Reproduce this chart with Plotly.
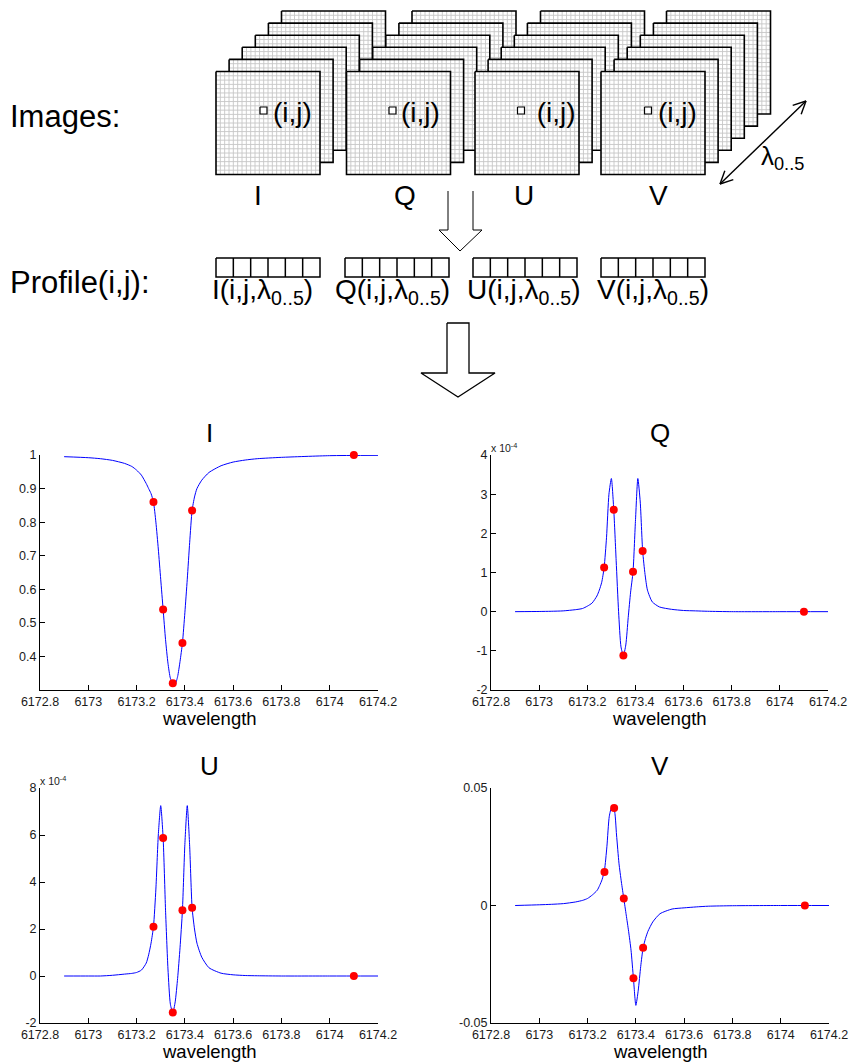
import math
import plotly.graph_objects as go

# ------------------------------------------------------------------ data
wavelength = [6172.90, 6173.00, 6173.05, 6173.10, 6173.15, 6173.18, 6173.20, 6173.22,
              6173.24, 6173.25, 6173.26, 6173.27, 6173.28, 6173.29, 6173.30, 6173.31,
              6173.32, 6173.33, 6173.34, 6173.35, 6173.36, 6173.37, 6173.38, 6173.39,
              6173.40, 6173.41, 6173.42, 6173.43, 6173.44, 6173.45, 6173.47, 6173.50,
              6173.55, 6173.60, 6173.65, 6173.70, 6173.80, 6174.00, 6174.20]

stokes_I = [0.995, 0.992, 0.989, 0.984, 0.975, 0.966, 0.955, 0.940,
            0.915, 0.900, 0.885, 0.860, 0.800, 0.720, 0.630, 0.540,
            0.450, 0.380, 0.335, 0.320, 0.318, 0.340, 0.385, 0.440,
            0.530, 0.630, 0.740, 0.835, 0.875, 0.900, 0.925, 0.948,
            0.968, 0.979, 0.985, 0.989, 0.993, 0.998, 0.999]

stokes_Q_e4 = [0.00, 0.005, 0.01, 0.02, 0.05, 0.08, 0.14, 0.22,
               0.40, 0.55, 0.75, 1.13, 1.90, 3.00, 3.40, 2.60,
               1.30, 0.00, -0.90, -1.12, -0.85, -0.15, 0.50, 1.02,
               2.30, 3.40, 2.80, 1.55, 0.95, 0.55, 0.25, 0.12,
               0.06, 0.03, 0.02, 0.01, 0.00, 0.00, 0.00]

stokes_U_e4 = [0.00, 0.00, 0.00, 0.03, 0.08, 0.11, 0.15, 0.25,
               0.55, 0.90, 1.40, 2.10, 3.70, 6.00, 7.25, 5.87,
               2.80, 0.30, -1.20, -1.57, -1.10, -0.10, 1.20, 2.80,
               5.60, 7.25, 5.50, 2.90, 2.00, 1.40, 0.80, 0.35,
               0.12, 0.05, 0.02, 0.01, 0.00, 0.00, 0.00]

stokes_V = [0.0000, 0.0003, 0.0005, 0.0008, 0.0015, 0.0022, 0.0030, 0.0045,
            0.0065, 0.0085, 0.0110, 0.0150, 0.0250, 0.0380, 0.0418, 0.0410,
            0.0300, 0.0180, 0.0100, 0.0030, -0.0040, -0.0110, -0.0190, -0.0310,
            -0.0425, -0.0360, -0.0260, -0.0180, -0.0140, -0.0110, -0.0070, -0.0035,
            -0.0015, -0.0010, -0.0006, -0.0003, -0.0001, 0.0000, 0.0000]

sample_wavelength = [6173.27, 6173.31, 6173.35, 6173.39, 6173.43, 6174.10]
sample_I = [0.86, 0.54, 0.32, 0.44, 0.835, 1.0]
sample_Q_e4 = [1.13, 2.60, -1.12, 1.02, 1.55, 0.0]
sample_U_e4 = [2.10, 5.87, -1.55, 2.80, 2.90, 0.0]
sample_V = [0.0143, 0.0415, 0.003, -0.031, -0.018, 0.0]

x_tickvals = [6172.8, 6173.0, 6173.2, 6173.4, 6173.6, 6173.8, 6174.0, 6174.2]
x_ticktext = ["6172.8", "6173", "6173.2", "6173.4", "6173.6", "6173.8", "6174", "6174.2"]
I_tickvals = [0.4, 0.5, 0.6, 0.7, 0.8, 0.9, 1.0]
I_ticktext = ["0.4", "0.5", "0.6", "0.7", "0.8", "0.9", "1"]
Q_tickvals = [-2, -1, 0, 1, 2, 3, 4]
Q_ticktext = ["-2", "-1", "0", "1", "2", "3", "4"]
U_tickvals = [-2, 0, 2, 4, 6, 8]
U_ticktext = ["-2", "0", "2", "4", "6", "8"]
V_tickvals = [-0.05, 0.0, 0.05]
V_ticktext = ["-0.05", "0", "0.05"]

panel_titles = ["I", "Q", "U", "V"]
stack_labels = ["I", "Q", "U", "V"]
profile_labels = ["I(i,j,λ<sub>0..5</sub>)", "Q(i,j,λ<sub>0..5</sub>)",
                  "U(i,j,λ<sub>0..5</sub>)", "V(i,j,λ<sub>0..5</sub>)"]
pixel_labels = ["(i,j)", "(i,j)", " (i,j)", "(i,j)"]

# ------------------------------------------------------------------ layout constants
W, H = 851, 1064
FONT = "Liberation Sans, Arial, Helvetica, sans-serif"
BLUE = "#0000ff"
RED = "#ff0000"

fig = go.Figure()


def px(p):
    return p / W


def py(p):
    return 1 - p / H


def seg(xs, ys, color="black", width=1.0, fill=None, fillcolor=None):
    fig.add_trace(go.Scatter(
        x=xs, y=ys, mode="lines", xaxis="x5", yaxis="y5",
        line=dict(color=color, width=width),
        fill=fill, fillcolor=fillcolor,
        hoverinfo="skip", showlegend=False))


# ------------------------------------------------------------------ chart panels
panels = [
    ("", stokes_I, sample_I, (40, 378), (455, 690), [0.3, 1.0], I_tickvals, I_ticktext, False),
    ("2", stokes_Q_e4, sample_Q_e4, (491, 828), (455, 690), [-2, 4], Q_tickvals, Q_ticktext, True),
    ("3", stokes_U_e4, sample_U_e4, (40, 378), (788, 1023), [-2, 8], U_tickvals, U_ticktext, True),
    ("4", stokes_V, sample_V, (491, 829), (788, 1023), [-0.05, 0.05], V_tickvals, V_ticktext, False),
]

annotations = []
axis_common = dict(showline=True, linecolor="black", linewidth=1, ticks="inside",
                   ticklen=5, tickwidth=1, tickcolor="black", showgrid=False,
                   zeroline=False, mirror=False, automargin=False,
                   tickfont=dict(family=FONT, size=12.5, color="#1a1a1a"))

layout_axes = {}
for (sfx, yvals, svals, xd, yd, yr, tv, tt, exp), title in zip(panels, panel_titles):
    xa = "x" + sfx
    ya = "y" + sfx
    fig.add_trace(go.Scatter(x=wavelength, y=yvals, mode="lines", xaxis=xa, yaxis=ya,
                             line=dict(color=BLUE, width=1, shape="spline", smoothing=0.6),
                             hoverinfo="skip", showlegend=False))
    fig.add_trace(go.Scatter(x=sample_wavelength, y=svals, mode="markers", xaxis=xa, yaxis=ya,
                             marker=dict(color=RED, size=8, line=dict(width=0)),
                             cliponaxis=False, hoverinfo="skip", showlegend=False))
    layout_axes["xaxis" + sfx] = dict(axis_common, domain=[px(xd[0]), px(xd[1])],
                                      range=[6172.8, 6174.2], anchor=ya,
                                      tickvals=x_tickvals, ticktext=x_ticktext)
    layout_axes["yaxis" + sfx] = dict(axis_common, domain=[py(yd[1]), py(yd[0])],
                                      range=yr, anchor=xa, tickvals=tv, ticktext=tt)
    cx = (xd[0] + xd[1]) / 2
    annotations.append(dict(xref="x5", yref="y5", x=cx, y=yd[0] - 22, text=title,
                            showarrow=False, xanchor="center", yanchor="middle",
                            font=dict(family=FONT, size=26, color="black")))
    annotations.append(dict(xref="x5", yref="y5", x=cx, y=yd[1] + 28, text="wavelength",
                            showarrow=False, xanchor="center", yanchor="middle",
                            font=dict(family=FONT, size=18.5, color="black")))
    if exp:
        annotations.append(dict(xref="x5", yref="y5", x=xd[0] - 2, y=yd[0] - 8,
                                text="x 10<sup>-4</sup>", showarrow=False,
                                xanchor="left", yanchor="middle",
                                font=dict(family=FONT, size=10.5, color="#222222")))

# ------------------------------------------------------------------ image stacks
stack_left = [216, 346.5, 475, 601]
FRAME_W, FRAME_H = 104, 103
FRONT_TOP = 71.5
DX, DY = 13.1, 12.1
N_FRAMES = 6
N_CELLS = 24

for L0 in stack_left:
    for k in reversed(range(N_FRAMES)):
        L = L0 + DX * k
        T = FRONT_TOP - DY * k
        R = L + FRAME_W
        B = T + FRAME_H
        seg([L, R, R, L, L], [T, T, B, B, T], color="white", width=0.1,
            fill="toself", fillcolor="white")
        gx, gy = [], []
        for i in range(1, N_CELLS):
            xx = L + i * FRAME_W / N_CELLS
            gx += [xx, xx, None]
            gy += [T, B, None]
            yy = T + i * FRAME_H / N_CELLS
            gx += [L, R, None]
            gy += [yy, yy, None]
        seg(gx, gy, color="#c6c6c6", width=0.9)
        seg([L, R, R, L, L], [T, T, B, B, T], color="black", width=1.6)

# small pixel markers and (i,j) texts
sq_left = [260, 389, 517.5, 644.5]
text_left = [271, 399, 527, 656]
for sl, tl, lab in zip(sq_left, text_left, pixel_labels):
    seg([sl, sl + 7, sl + 7, sl, sl], [107, 107, 114, 114, 107], color="black", width=1.2,
        fill="toself", fillcolor="white")
    annotations.append(dict(xref="x5", yref="y5", x=tl, y=112, text=lab, showarrow=False,
                            xanchor="left", yanchor="middle",
                            font=dict(family=FONT, size=28, color="black")))

stack_label_x = [258, 405, 524, 658]
for sx, lab in zip(stack_label_x, stack_labels):
    annotations.append(dict(xref="x5", yref="y5", x=sx, y=195, text=lab, showarrow=False,
                            xanchor="center", yanchor="middle",
                            font=dict(family=FONT, size=28, color="black")))

# ------------------------------------------------------------------ profile boxes
box_left = [216, 345, 473, 601]
BOX_W, BOX_T, BOX_B = 104, 258, 277
for bl in box_left:
    bx, by = [bl, bl + BOX_W, bl + BOX_W, bl, bl], [BOX_T, BOX_T, BOX_B, BOX_B, BOX_T]
    for i in range(1, 6):
        xx = bl + i * BOX_W / 6
        bx += [None, xx, xx]
        by += [None, BOX_T, BOX_B]
    seg(bx, by, color="black", width=1.5)

profile_label_x = [210, 333, 465, 595]
for lx, lab in zip(profile_label_x, profile_labels):
    annotations.append(dict(xref="x5", yref="y5", x=lx, y=291, text=lab, showarrow=False,
                            xanchor="left", yanchor="middle",
                            font=dict(family=FONT, size=28, color="black")))

# ------------------------------------------------------------------ row labels
annotations.append(dict(xref="x5", yref="y5", x=8, y=116, text="Images:", showarrow=False,
                        xanchor="left", yanchor="middle",
                        font=dict(family=FONT, size=31, color="black")))
annotations.append(dict(xref="x5", yref="y5", x=8, y=282, text="Profile(i,j):", showarrow=False,
                        xanchor="left", yanchor="middle",
                        font=dict(family=FONT, size=31, color="black")))

# ------------------------------------------------------------------ arrows
seg([448, 448, 439, 460, 482, 473, 473], [191, 230, 230, 251, 230, 230, 191],
    color="black", width=1)
seg([447, 447, 421, 458, 495, 469, 469, 447], [323, 373, 373, 397, 373, 373, 323, 323],
    color="black", width=1.3)

ax0, ay0, ax1, ay1 = 720, 184, 806, 101
seg([ax0, ax1], [ay0, ay1], color="black", width=1.4)
ang = math.atan2(ay1 - ay0, ax1 - ax0)
HL = 14
for (tx, ty, a) in [(ax1, ay1, ang + math.pi), (ax0, ay0, ang)]:
    hx, hy = [], []
    for d in (-0.45, 0.45):
        hx += [tx + HL * math.cos(a + d), tx, None]
        hy += [ty + HL * math.sin(a + d), ty, None]
    seg(hx, hy, color="black", width=1.4)
annotations.append(dict(xref="x5", yref="y5", x=759, y=157, text="λ<sub>0..5</sub>",
                        showarrow=False, xanchor="left", yanchor="middle",
                        font=dict(family=FONT, size=26, color="black")))

# ------------------------------------------------------------------ layout
layout_axes["xaxis5"] = dict(domain=[0, 1], range=[0, W], visible=False, anchor="y5",
                             fixedrange=True, automargin=False)
layout_axes["yaxis5"] = dict(domain=[0, 1], range=[H, 0], visible=False, anchor="x5",
                             fixedrange=True, automargin=False)

fig.update_layout(
    width=W, height=H, autosize=False,
    margin=dict(l=0, r=0, t=0, b=0, pad=0, autoexpand=False),
    paper_bgcolor="white", plot_bgcolor="rgba(0,0,0,0)",
    showlegend=False,
    annotations=annotations,
    **layout_axes,
)

fig.write_html("out.html", config={"responsive": False, "displayModeBar": False})
